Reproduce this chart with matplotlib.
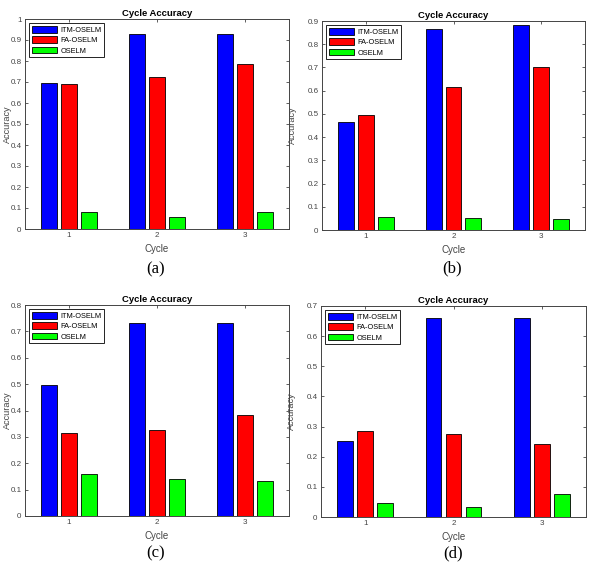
import numpy as np
import matplotlib
matplotlib.use("Agg")
import matplotlib.pyplot as plt
from matplotlib.ticker import FuncFormatter, MultipleLocator

plt.rcParams['font.family'] = ['Liberation Sans', 'DejaVu Sans']

cycles = [1, 2, 3]
series = ['ITM-OSELM', 'FA-OSELM', 'OSELM']
colors = ['#0000ff', '#ff0000', '#00ff00']
captions = ['(a)', '(b)', '(c)', '(d)']
ylims = [1.0, 0.9, 0.8, 0.7]

# accuracy per panel, one list per method
itm_oselm = [[0.695, 0.929, 0.929],
             [0.464, 0.866, 0.882],
             [0.498, 0.731, 0.731],
             [0.252, 0.660, 0.660]]
fa_oselm = [[0.690, 0.725, 0.785],
            [0.496, 0.616, 0.701],
            [0.316, 0.326, 0.383],
            [0.285, 0.274, 0.242]]
oselm = [[0.082, 0.058, 0.082],
         [0.057, 0.052, 0.049],
         [0.161, 0.142, 0.132],
         [0.048, 0.033, 0.075]]

W, H = 590, 563
fig = plt.figure(figsize=(W / 100, H / 100), dpi=100)

# axes boxes in pixels: left, right, top, bottom
boxes = [(25, 289, 19, 229), (322, 585, 21, 230),
         (25, 289, 305, 516), (321, 586, 306, 517)]
cap_pos = [(156, 269), (452, 268), (156, 553), (453, 553)]
ylab_x = [-0.05, -0.095, -0.05, -0.095]

axcol = '#444444'
x = np.array(cycles)
off = 0.226
bw = 0.18

for i, (l, r, t, b) in enumerate(boxes):
    ax = fig.add_axes([l / W, 1 - b / H, (r - l) / W, (b - t) / H])
    data = [itm_oselm[i], fa_oselm[i], oselm[i]]
    for j, vals in enumerate(data):
        ax.bar(x + (j - 1) * off, vals, width=bw, color=colors[j],
               edgecolor='black', linewidth=0.6, label=series[j], zorder=2)
    ax.set_xlim(0.5, 3.5)
    ax.set_ylim(0, ylims[i])
    ax.set_xticks(cycles)
    ax.yaxis.set_major_locator(MultipleLocator(0.1))
    ax.yaxis.set_major_formatter(FuncFormatter(lambda v, p: f'{v:g}'))
    ax.tick_params(direction='in', length=2.5, width=0.6, labelsize=5.8,
                   colors=axcol, top=True, right=True, pad=2.5)
    for s in ax.spines.values():
        s.set_color(axcol)
        s.set_linewidth(0.7)
    ax.set_title('Cycle Accuracy', fontsize=6.8, fontweight='bold', pad=2)
    ax.set_xlabel('Cycle', fontsize=7, color=axcol, labelpad=3)
    ax.set_ylabel('Accuracy', fontsize=6.6, color=axcol)
    ax.yaxis.set_label_coords(ylab_x[i], 0.5)
    leg = ax.legend(loc='upper left', fontsize=5.3, handlelength=3.4,
                    handleheight=1.0, labelspacing=0.35, borderpad=0.35,
                    handletextpad=0.5, borderaxespad=0.6, fancybox=False,
                    framealpha=1)
    leg.get_frame().set_edgecolor('black')
    leg.get_frame().set_linewidth(0.6)
    cx, cy = cap_pos[i]
    fig.text(cx / W, 1 - cy / H, captions[i], ha='center', va='center',
             fontsize=12, family='Liberation Serif')

fig.savefig('out.png', dpi=100)
